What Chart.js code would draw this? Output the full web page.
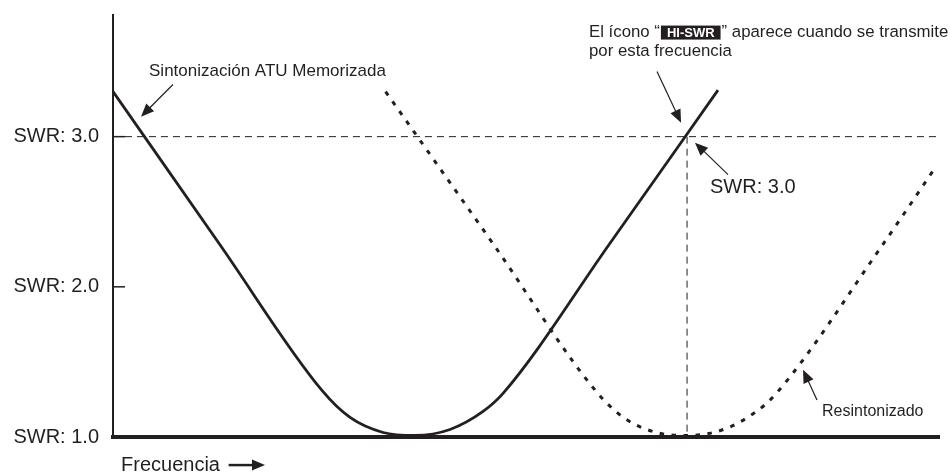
<!DOCTYPE html>
<html>
<head>
<meta charset="utf-8">
<script src="https://cdn.jsdelivr.net/npm/chart.js@4.4.1/dist/chart.umd.min.js"></script>
<style>
  body { margin: 0; background: #fff; }
  #wrap { width: 950px; height: 475px; }
</style>
</head>
<body>
<div id="wrap"><canvas id="swrChart"></canvas></div>
<script>
// frequency runs 0..100 (relative units), SWR on the vertical axis
const memFreq = [0, 12.95, 25.3, 28.7, 32.7, 36.56, 40.8, 44.8, 47.22, 60.17, 73.24];
const memSwr  = [3.30, 2.28, 1.31, 1.13, 1.03, 1.01, 1.05, 1.17, 1.29, 2.29, 3.31];

const retuneFreq = [33.0, 46.1, 58.4, 61.8, 65.8, 69.6, 73.9, 77.9, 80.3, 93.3, 99.5];
const retuneSwr  = [3.30, 2.28, 1.31, 1.13, 1.03, 1.01, 1.05, 1.17, 1.29, 2.29, 2.79];

const swrTicks = [1, 2, 3];
const swrLimit = 3.0;
const hiSwrFreq = 69.5;

const ink = '#231f20';
const font = '"Liberation Sans", Arial, sans-serif';

const toPoints = (xs, ys) => xs.map((v, i) => ({ x: v, y: ys[i] }));

// arrow with a filled head at (x2, y2)
function arrow(ctx, x1, y1, x2, y2, len, half) {
  const a = Math.atan2(y2 - y1, x2 - x1);
  ctx.beginPath();
  ctx.moveTo(x1, y1);
  ctx.lineTo(x2 - Math.cos(a) * len * 0.8, y2 - Math.sin(a) * len * 0.8);
  ctx.stroke();
  ctx.beginPath();
  ctx.moveTo(x2, y2);
  ctx.lineTo(x2 - Math.cos(a) * len - Math.sin(a) * half, y2 - Math.sin(a) * len + Math.cos(a) * half);
  ctx.lineTo(x2 - Math.cos(a) * len + Math.sin(a) * half, y2 - Math.sin(a) * len - Math.cos(a) * half);
  ctx.closePath();
  ctx.fill();
}

const notes = {
  id: 'notes',
  afterDraw(chart) {
    const { ctx, chartArea, scales: { x, y } } = chart;
    const px = v => x.getPixelForValue(v);
    const py = v => y.getPixelForValue(v);
    ctx.save();
    ctx.strokeStyle = ink;
    ctx.fillStyle = ink;
    ctx.textBaseline = 'middle';

    // short tick stubs inside the axis
    ctx.lineWidth = 1.5;
    swrTicks.filter(v => v > 1).forEach(v => {
      ctx.beginPath();
      ctx.moveTo(chartArea.left, py(v));
      ctx.lineTo(chartArea.left + 12, py(v));
      ctx.stroke();
    });

    ctx.lineWidth = 1.2;

    ctx.font = '17px ' + font;
    ctx.fillText('Sintonización ATU Memorizada', px(4.36), py(3.433));
    arrow(ctx, px(7.26), py(3.347), px(3.39), py(3.133), 13, 5.5);

    // two-line note with the inverted icon
    ctx.font = '16.8px ' + font;
    let cx = px(57.63);
    const l1 = py(3.693);
    const pre = 'El ícono \u201c';
    ctx.fillText(pre, cx, l1);
    cx += ctx.measureText(pre).width + 1;
    ctx.font = 'bold 13px ' + font;
    const icon = 'HI-SWR';
    const iw = ctx.measureText(icon).width + 12;
    ctx.fillRect(cx, l1 - 7, iw, 14);
    ctx.fillStyle = '#fff';
    ctx.fillText(icon, cx + 6, l1 + 0.5);
    ctx.fillStyle = ink;
    cx += iw + 1;
    ctx.font = '16.8px ' + font;
    ctx.fillText('\u201d aparece cuando se transmite', cx, l1);
    ctx.fillText('por esta frecuencia', px(57.63), py(3.567));
    arrow(ctx, px(65.86), py(3.433), px(68.77), py(3.093), 13, 5.5);

    ctx.font = '20px ' + font;
    ctx.fillText('SWR: 3.0', px(72.28), py(2.66));
    arrow(ctx, px(74.46), py(2.747), px(70.46), py(2.96), 13, 5.5);

    ctx.font = '16px ' + font;
    ctx.fillText('Resintonizado', px(85.84), py(1.167));
    arrow(ctx, px(85.23), py(1.247), px(83.54), py(1.447), 13, 5.5);

    ctx.font = '20px ' + font;
    ctx.fillText('Frecuencia', px(0.97), py(0.813));
    ctx.lineWidth = 2.5;
    arrow(ctx, px(14.0), py(0.813), px(18.4), py(0.813), 13, 5.5);

    ctx.restore();
  }
};

const data = {
  datasets: [
    {
      label: 'Sintonización ATU Memorizada',
      data: toPoints(memFreq, memSwr),
      borderColor: ink,
      borderWidth: 2.8,
      cubicInterpolationMode: 'monotone',
      pointRadius: 0
    },
    {
      label: 'Resintonizado',
      data: toPoints(retuneFreq, retuneSwr),
      borderColor: ink,
      borderWidth: 3,
      borderDash: [4.5, 7.5],
      cubicInterpolationMode: 'monotone',
      pointRadius: 0
    },
    {
      label: 'SWR 3.0',
      data: [{ x: 1.45, y: swrLimit }, { x: 100, y: swrLimit }],
      borderColor: ink,
      borderWidth: 1,
      borderDash: [7, 5],
      pointRadius: 0,
      clip: false
    },
    {
      label: 'HI-SWR',
      data: [{ x: hiSwrFreq, y: swrLimit }, { x: hiSwrFreq, y: 1 }],
      borderColor: ink,
      borderWidth: 1,
      borderDash: [7, 5],
      pointRadius: 0
    }
  ]
};

const config = {
  type: 'line',
  data,
  options: {
    responsive: true,
    maintainAspectRatio: false,
    animation: false,
    layout: { padding: { top: 15, right: 11, left: 0, bottom: 0 } },
    plugins: { legend: { display: false }, tooltip: { enabled: false } },
    scales: {
      x: {
        type: 'linear',
        min: 0,
        max: 100,
        grid: { display: false, drawTicks: false },
        border: { display: true, color: ink, width: 4 },
        ticks: { display: false },
        afterFit: s => { s.height = 38; }
      },
      y: {
        min: 1,
        max: 3.81,
        grid: { display: false, drawTicks: false },
        border: { display: true, color: ink, width: 2 },
        afterBuildTicks: s => { s.ticks = swrTicks.map(v => ({ value: v })); },
        afterFit: s => { s.width = 113; s.paddingTop = 0; s.paddingBottom = 0; },
        ticks: {
          color: ink,
          padding: 14,
          font: { family: font, size: 20 },
          callback: v => 'SWR: ' + v.toFixed(1)
        }
      }
    }
  },
  plugins: [notes]
};

const swrChart = new Chart(document.getElementById('swrChart'), config);
</script>
</body>
</html>
